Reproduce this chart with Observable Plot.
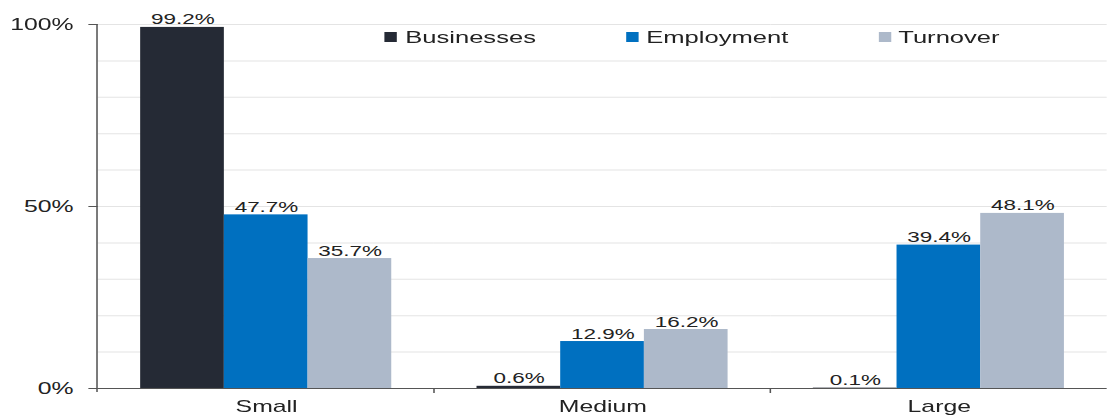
<!DOCTYPE html>
<html><head><meta charset="utf-8">
<script src="https://cdn.jsdelivr.net/npm/d3@7"></script>
<script src="https://cdn.jsdelivr.net/npm/@observablehq/plot@0.6"></script>
<style>
html,body{margin:0;padding:0;background:#fff;overflow:hidden}
#wrap{position:relative;width:715px;height:417px;transform:scaleX(1.55);transform-origin:0 0;font-family:"Liberation Sans",Arial,sans-serif}
#wrap svg{display:block}
.lg{position:absolute;top:28px;height:18px;line-height:18px;font-size:16.5px;color:#222;white-space:nowrap}
.lg i{position:absolute;left:0;top:4px;width:8px;height:10px}
.lg span{position:absolute;left:13px;top:0}
</style></head><body><div id="wrap"></div>
<script>
const S = 1.55;
const sizes = ["Small", "Medium", "Large"];
const series = ["Businesses", "Employment", "Turnover"];
const businesses = [99.2, 0.6, 0.1];
const employment = [47.7, 12.9, 39.4];
const turnover = [35.7, 16.2, 48.1];
const colors = ["#252a35", "#0070c0", "#adb9ca"];
const yTicks = [0, 50, 100];
const gridTicks = [10, 20, 30, 40, 50, 60, 70, 80, 90, 100];

const values = [businesses, employment, turnover];
const data = sizes.flatMap((s, i) => series.map((k, j) => ({size: s, series: k, value: values[j][i]})));

const W = 1108 / S;
const plot = Plot.plot({
  width: W, height: 417,
  marginTop: 24, marginBottom: 29, marginLeft: 97 / S, marginRight: 0,
  style: {fontFamily: "Liberation Sans, Arial, sans-serif", fontSize: "15px", color: "#222", background: "#fff", overflow: "visible"},
  fx: {domain: sizes, padding: 0, label: null},
  x: {domain: series, paddingInner: 0, paddingOuter: 0.5, axis: null},
  y: {domain: [0, 100], label: null},
  color: {domain: series, range: colors},
  marks: [
    Plot.gridY({ticks: gridTicks, stroke: "#e4e4e4", strokeOpacity: 1}),
    Plot.barY(data, {fx: "size", x: "series", y: "value", fill: "series"}),
    Plot.ruleY([0], {stroke: "#555"}),
    Plot.text(data, {fx: "size", x: "series", y: "value", text: d => d.value.toFixed(1) + "%", lineAnchor: "bottom", dy: -3, fontSize: 14.5, fill: "#222"}),
    Plot.axisY({ticks: yTicks, tickFormat: d => d + "%", tickSize: 6, tickPadding: 10, fontSize: 16, label: null, stroke: "#555"}),
    Plot.axisFx({anchor: "bottom", tickSize: 0, tickPadding: 12, fontSize: 16, label: null})
  ]
});
const wrap = document.getElementById("wrap");
wrap.appendChild(plot);

// y axis line and category boundary ticks from the library's scales
const y = plot.scale("y"), fx = plot.scale("fx");
const g = d3.select(plot).append("g").attr("stroke", "#555");
const x0 = 97 / S;
g.append("line").attr("x1", x0).attr("x2", x0).attr("y1", y.apply(100)).attr("y2", y.apply(0) + 4);
sizes.slice(1).forEach(s => {
  const bx = fx.apply(s);
  g.append("line").attr("x1", bx).attr("x2", bx).attr("y1", y.apply(0)).attr("y2", y.apply(0) + 5);
});

// legend
const lgLeft = [248.4, 403.9, 566.5];
series.forEach((k, j) => {
  const d = document.createElement("div");
  d.className = "lg";
  d.style.left = lgLeft[j] + "px";
  d.innerHTML = `<i style="background:${colors[j]}"></i><span>${k}</span>`;
  wrap.appendChild(d);
});
</script>
</body></html>
